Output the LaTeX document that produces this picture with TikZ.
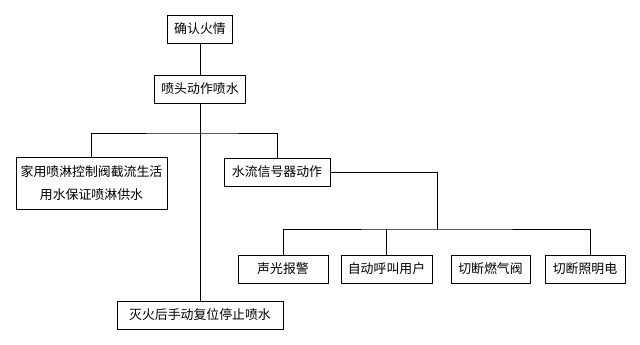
\documentclass[tikz,border=0pt]{standalone}
\usepackage{fontspec}
\newfontfamily\cjk{Noto Sans CJK SC}
\usetikzlibrary{calc}

\begin{document}
\begin{tikzpicture}[
  x=0.03cm, y=-0.03cm,
  font=\cjk\fontsize{11}{19}\selectfont, line width=0.6pt,
  box/.style={draw, align=center, inner sep=2pt, minimum height=0.84cm},
  tall/.style={box, minimum height=1.56cm},
]
\useasboundingbox (0,0) rectangle (640,345);

% main chain
\node[box, minimum width=1.95cm] (confirm) at (200,29) {确认火情};
\node[box, minimum width=2.73cm] (spray) at (200,89) {喷头动作喷水};
\node[box, minimum width=4.98cm] (reset) at (200,315) {灭火后手动复位停止喷水};

% first branch
\node[tall, minimum width=4.53cm] (home) at (91.5,183) {家用喷淋控制阀截流生活\\用水保证喷淋供水};
\node[box, minimum width=3.18cm] (flow) at (277,172) {水流信号器动作};

% signal actions
\node[box, minimum width=2.70cm] (alarm) at (283,269) {声光报警};
\node[box, minimum width=2.73cm] (call) at (386.5,269) {自动呼叫用户};
\node[box, minimum width=2.37cm] (gas) at (490.5,269) {切断燃气阀};
\node[box, minimum width=2.40cm] (light) at (585,269) {切断照明电};

\coordinate (br) at (200,133);
\coordinate (sig) at (437,229);

\draw (confirm.south) -- (spray.north);
\draw (spray.south) -- (reset.north);
\draw (home.north) |- (br) -| (flow.north);
\draw (flow.east) -| (sig);
\draw (alarm.north) |- (sig) -| ($(light.north)+(5,0)$);
\draw (call.north) -- (call.north |- sig);
\draw ($(gas.north)+(5,0)$) -- ($(gas.north)+(5,0)$ |- sig);
\end{tikzpicture}
\end{document}
